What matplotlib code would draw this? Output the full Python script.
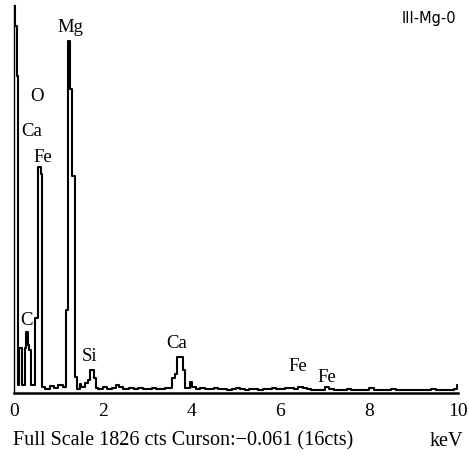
import matplotlib
matplotlib.use('Agg')
import matplotlib.pyplot as plt

# EDS spectrum: bin left edges (keV) and counts
energy = [0.00, 0.02, 0.06, 0.10, 0.12, 0.17, 0.25, 0.27, 0.31, 0.34,
          0.38, 0.47, 0.53, 0.60, 0.62, 0.70, 0.80, 0.90, 1.00, 1.10,
          1.17, 1.21, 1.26, 1.30, 1.38, 1.42, 1.48, 1.52, 1.60, 1.66,
          1.71, 1.80, 1.84, 1.90, 2.00, 2.10, 2.20, 2.30, 2.36, 2.45,
          2.60, 2.70, 2.80, 2.90, 3.00, 3.10, 3.20, 3.30, 3.40, 3.50,
          3.56, 3.62, 3.66, 3.80, 3.85, 3.96, 4.02, 4.10, 4.20, 4.30,
          4.40, 4.50, 4.60, 4.70, 4.80, 4.90, 5.00, 5.10, 5.20, 5.30,
          5.40, 5.50, 5.60, 5.70, 5.80, 5.90, 6.00, 6.10, 6.20, 6.30,
          6.40, 6.50, 6.60, 6.70, 6.80, 6.90, 7.00, 7.10, 7.20, 7.30,
          7.40, 7.50, 7.60, 7.70, 7.80, 7.90, 8.00, 8.10, 8.20, 8.30,
          8.40, 8.50, 8.60, 8.70, 8.80, 8.90, 9.00, 9.10, 9.20, 9.30,
          9.40, 9.50, 9.60, 9.70, 9.80, 9.90, 9.97]
counts = [1826, 1727, 1491, 38, 212, 38, 212, 288, 227, 203,
          38, 354, 1062, 1029, 28, 19, 33, 24, 38, 28,
          392, 1656, 1433, 1022, 76, 19, 43, 28, 47, 61,
          109, 71, 24, 19, 28, 19, 24, 38, 28, 19,
          24, 19, 24, 19, 19, 24, 19, 19, 24, 24,
          71, 90, 170, 109, 24, 52, 28, 19, 24, 19,
          19, 24, 19, 19, 14, 19, 24, 19, 14, 19,
          19, 14, 19, 19, 24, 19, 19, 24, 24, 19,
          28, 24, 19, 14, 14, 14, 28, 19, 14, 14,
          14, 19, 14, 14, 14, 14, 24, 14, 14, 14,
          14, 19, 14, 14, 14, 14, 14, 14, 14, 14,
          19, 14, 14, 14, 14, 19, 38]

peak_labels = ['Mg', 'O', 'Ca', 'Fe', 'C', 'Si', 'Ca', 'Fe', 'Fe']
label_x = [1.26, 0.52, 0.40, 0.65, 0.29, 1.71, 3.67, 6.40, 7.05]
label_y = [1718, 1395, 1230, 1110, 340, 170, 235, 125, 75]

serif = 'Liberation Serif'

fig = plt.figure(figsize=(4.69, 4.57), dpi=100)
ax = fig.add_axes([14 / 469, 64 / 457, 444 / 469, 388 / 457])

ax.step(energy + [10.0], counts + [counts[-1]], where='post',
        color='black', lw=1.5)

for lab, lx, ly in zip(peak_labels, label_x, label_y):
    ax.text(lx, ly, lab, ha='center', va='center', family=serif, fontsize=13.5)

ax.text(0.995, 0.985, 'III-Mg-0', transform=ax.transAxes, ha='right', va='top',
        family=['Liberation Sans Narrow', 'DejaVu Sans'], fontsize=10.5)

ax.set_xlim(0, 10)
ax.set_ylim(0, 1826)
ax.set_xticks([0, 2, 4, 6, 8, 10])
ax.set_yticks([])
ax.tick_params(axis='x', length=0, pad=7, labelsize=14)
for t in ax.get_xticklabels():
    t.set_family(serif)

ax.spines['top'].set_visible(False)
ax.spines['right'].set_visible(False)
ax.spines['left'].set_linewidth(1.0)
ax.spines['bottom'].set_linewidth(1.8)

fig.text(13 / 469, 1 - 441 / 457, 'Full Scale 1826 cts Curson:\u22120.061 (16cts)',
         ha='left', va='center', family=serif, fontsize=14.5)
fig.text(463 / 469, 1 - 441 / 457, 'keV', ha='right', va='center',
         family=serif, fontsize=14.5)

fig.savefig('out.png', dpi=100)
